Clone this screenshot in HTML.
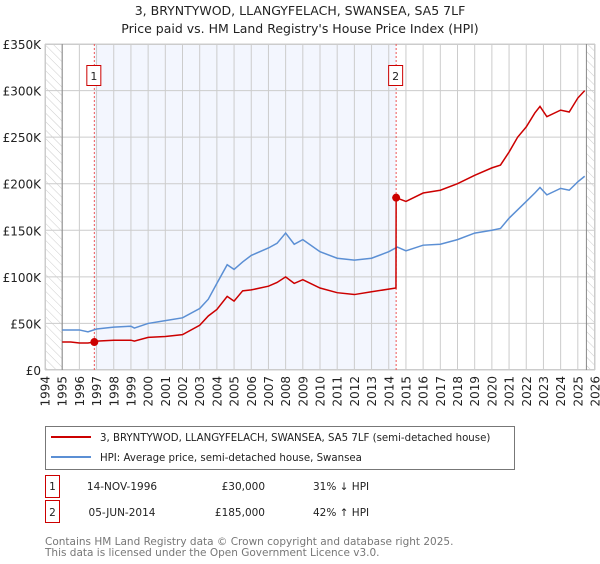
<!DOCTYPE html>
<html><head><meta charset="utf-8"><style>
body{margin:0;background:#fff;font-family:"DejaVu Sans","Liberation Sans",sans-serif;}
svg text{font-family:"DejaVu Sans","Liberation Sans",sans-serif;}
</style></head><body>
<svg id="c" width="600" height="560" xmlns="http://www.w3.org/2000/svg">
<defs><pattern id="hatch" width="6" height="6" patternUnits="userSpaceOnUse" patternTransform="rotate(-45)"><line x1="0" y1="0" x2="0" y2="6" stroke="#ccc" stroke-width="1"/></pattern></defs>
<text x="300" y="15" text-anchor="middle" font-size="12.5" fill="#222">3, BRYNTYWOD, LLANGYFELACH, SWANSEA, SA5 7LF</text>
<text x="300" y="33" text-anchor="middle" font-size="12.5" fill="#222">Price paid vs. HM Land Registry's House Price Index (HPI)</text>
<g id="plot"></g>
<g>
<rect x="45.5" y="426.5" width="469" height="43" fill="#fff" stroke="#777"/>
<line x1="51" y1="437" x2="91" y2="437" stroke="#cc0000" stroke-width="2"/>
<text x="100" y="441" font-size="10.2" fill="#222">3, BRYNTYWOD, LLANGYFELACH, SWANSEA, SA5 7LF (semi-detached house)</text>
<line x1="51" y1="457" x2="91" y2="457" stroke="#5b8fd4" stroke-width="2"/>
<text x="100" y="461" font-size="10.2" fill="#222">HPI: Average price, semi-detached house, Swansea</text>
</g>
<g font-size="10.5" fill="#222">
<rect x="45.5" y="475.5" width="14" height="22" fill="#fff" stroke="#cc0000"/>
<text x="52.5" y="490" text-anchor="middle">1</text>
<text x="122" y="490" text-anchor="middle">14-NOV-1996</text>
<text x="265" y="490" text-anchor="end">£30,000</text>
<text x="313" y="490">31% ↓ HPI</text>
<rect x="45.5" y="500.5" width="14" height="22" fill="#fff" stroke="#cc0000"/>
<text x="52.5" y="516" text-anchor="middle">2</text>
<text x="122" y="516" text-anchor="middle">05-JUN-2014</text>
<text x="265" y="516" text-anchor="end">£185,000</text>
<text x="313" y="516">42% ↑ HPI</text>
</g>
<text x="45" y="545" font-size="10.5" fill="#777">Contains HM Land Registry data © Crown copyright and database right 2025.</text>
<text x="45" y="556" font-size="10.5" fill="#777">This data is licensed under the Open Government Licence v3.0.</text>
</svg>
<script>
const hpiYears=[1995,1995.5,1996,1996.5,1997,1998,1999,1999.2,2000,2001,2002,2003,2003.5,2004,2004.6,2005,2005.5,2006,2007,2007.5,2008,2008.5,2009,2010,2011,2012,2013,2014,2014.5,2015,2016,2017,2018,2019,2020,2020.5,2021,2021.5,2022,2022.5,2022.8,2023.2,2024,2024.5,2025,2025.4];
const hpiValues=[43,43,43,41,44,46,47,45,50,53,56,66,76,93,113,108,116,123,131,136,147,135,140,127,120,118,120,127,132,128,134,135,140,147,150,152,163,172,181,190,196,188,195,193,202,208];
const propYears=[1995,1995.5,1996,1996.5,1996.87,1997,1998,1999,1999.2,2000,2001,2002,2003,2003.5,2004,2004.6,2005,2005.5,2006,2007,2007.5,2008,2008.5,2009,2010,2011,2012,2013,2014.42,2014.43,2015,2016,2017,2018,2019,2020,2020.5,2021,2021.5,2022,2022.5,2022.8,2023.2,2024,2024.5,2025,2025.4];
const propValues=[30,30,29,29,30,31,32,32,31,35,36,38,48,58,65,79,74,85,86,90,94,100,93,97,88,83,81,84,88,185,181,190,193,200,209,217,220,234,250,261,276,283,272,279,277,292,300];
const saleYears=[1996.87,2014.43];
const saleValues=[30,185];
const saleLabels=["1","2"];
const yTicks=[0,50,100,150,200,250,300,350];
const yTickLabels=["£0","£50K","£100K","£150K","£200K","£250K","£300K","£350K"];
const xTicks=[1994,1995,1996,1997,1998,1999,2000,2001,2002,2003,2004,2005,2006,2007,2008,2009,2010,2011,2012,2013,2014,2015,2016,2017,2018,2019,2020,2021,2022,2023,2024,2025,2026];

const X0=45,X1=595,Y0=370,Y1=44;
const xs=y=>X0+(y-1994)/(2026-1994)*(X1-X0);
const ys=v=>Y0-v/350*(Y0-Y1);
const NS="http://www.w3.org/2000/svg";
const g=document.getElementById('plot');
function mk(t,a){const e=document.createElementNS(NS,t);for(const k in a)e.setAttribute(k,a[k]);g.appendChild(e);return e;}
let e;
e=mk('rect',{x:xs(saleYears[0]),y:Y1,width:xs(saleYears[1])-xs(saleYears[0]),height:Y0-Y1,fill:'#f3f6fe'});


e=mk('rect',{x:X0,y:Y1,width:xs(1995)-X0,height:Y0-Y1,fill:'url(#hatch)'});


e=mk('rect',{x:xs(2025.5),y:Y1,width:X1-xs(2025.5),height:Y0-Y1,fill:'url(#hatch)'});


yTicks.forEach((t,i)=>{
 e=mk('line',{x1:X0,x2:X1,y1:ys(t),y2:ys(t),stroke:'#cccccc'});
 
 
 e=mk('text',{x:X0-4,y:ys(t)+5,'text-anchor':'end','font-size':'12',fill:'#222'});
 e.textContent=yTickLabels[i];
 
 
});
xTicks.forEach(t=>{
 e=mk('line',{x1:xs(t),x2:xs(t),y1:Y1,y2:Y0,stroke:'#cccccc'});
 
 
 e=mk('text',{x:0,y:0,'text-anchor':'end','font-size':'12',fill:'#222',transform:`translate(${xs(t)+4.5},376) rotate(-90)`});
 e.textContent=t;
 
 
});
e=mk('rect',{x:X0+.5,y:Y1+.5,width:X1-X0-1,height:Y0-Y1-1,fill:'none',stroke:'#cccccc'});


[1995,2025.5].forEach(t=>{
 e=mk('line',{x1:xs(t),x2:xs(t),y1:Y1,y2:Y0,stroke:'#888'});
 
 
});
saleYears.forEach((t,i)=>{
 e=mk('line',{x1:xs(t),x2:xs(t),y1:Y1,y2:Y0,stroke:'#ee5555','stroke-dasharray':'2,2'});
 
 
});
e=mk('polyline',{points:hpiYears.map((y,i)=>xs(y)+','+ys(hpiValues[i])).join(' '),fill:'none',stroke:'#5b8fd4','stroke-width':1.5});


e=mk('polyline',{points:propYears.map((y,i)=>xs(y)+','+ys(propValues[i])).join(' '),fill:'none',stroke:'#cc0000','stroke-width':1.5});


saleYears.forEach((t,i)=>{
 e=mk('circle',{cx:xs(t),cy:ys(saleValues[i]),r:4,fill:'#cc0000'});
 
 
 e=mk('rect',{x:xs(t)-7.5,y:65.5,width:14,height:20,fill:'#fff',stroke:'#cc0000'});
 
 
 e=mk('text',{x:xs(t)-0.5,y:80,'text-anchor':'middle','font-size':'11',fill:'#222'});
 e.textContent=saleLabels[i];
 
 
});
</script>
</body></html>
